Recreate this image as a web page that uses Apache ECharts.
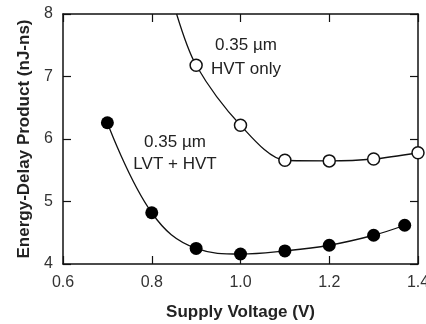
<!DOCTYPE html>
<html><head><meta charset="utf-8">
<script src="https://cdn.jsdelivr.net/npm/echarts@6/dist/echarts.min.js"></script>
<style>html,body{margin:0;padding:0;background:#fff;overflow:hidden;width:426px;height:324px}#c{width:426px;height:324px;overflow:hidden}</style>
</head><body><div id="c"></div>
<script>
// Data
const hvtOnlyX = [0.856, 0.9, 1.0, 1.1, 1.2, 1.3, 1.4];
const hvtOnlyY = [8.0, 7.18, 6.22, 5.66, 5.65, 5.68, 5.78];
const lvtHvtX = [0.7, 0.8, 0.9, 1.0, 1.1, 1.2, 1.3, 1.37];
const lvtHvtY = [6.26, 4.82, 4.25, 4.16, 4.21, 4.30, 4.46, 4.62];
const xTicks = [0.6, 0.8, 1.0, 1.2, 1.4];
const yTicks = [4, 5, 6, 7, 8];
const xTitle = 'Supply Voltage (V)';
const yTitle = 'Energy-Delay Product (nJ-ns)';
const labelHvt = ['0.35 µm', 'HVT only'];
const labelLvt = ['0.35 µm', 'LVT + HVT'];

const FONT = 'Liberation Sans, Arial, Helvetica, sans-serif';
const chart = echarts.init(document.getElementById('c'), null, {renderer: 'canvas', width: 426, height: 324});
const axLine = {show: true, lineStyle: {color: '#111', width: 1.5}};
const tick = {show: true, inside: true, length: 8, lineStyle: {color: '#111', width: 1.2}};
const xmin = xTicks[0], xmax = xTicks[xTicks.length - 1];
const ymin = yTicks[0], ymax = yTicks[yTicks.length - 1];

const hvtData = hvtOnlyX.map((x, i) => i === 0 ? {value: [x, hvtOnlyY[i]], symbol: 'none'} : [x, hvtOnlyY[i]]);
const lvtData = lvtHvtX.map((x, i) => [x, lvtHvtY[i]]);

chart.setOption({
  animation: false,
  backgroundColor: '#fff',
  grid: {left: 63, right: 8, top: 14, bottom: 60, containLabel: false, outerBoundsMode: 'none'},
  xAxis: [{
    type: 'value', position: 'bottom', min: xmin, max: xmax, interval: 0.2,
    name: xTitle, nameLocation: 'middle', nameGap: 40,
    nameTextStyle: {fontFamily: FONT, fontSize: 17, fontWeight: 'bold', color: '#222'},
    axisLine: axLine, axisTick: tick, splitLine: {show: false},
    axisLabel: {fontFamily: FONT, fontSize: 16, color: '#333', margin: 11,
      formatter: v => v.toFixed(1)}
  }, {
    type: 'value', position: 'top', min: xmin, max: xmax, interval: 0.2,
    axisLine: axLine, axisTick: tick, splitLine: {show: false}, axisLabel: {show: false}
  }],
  yAxis: [{
    type: 'value', position: 'left', min: ymin, max: ymax, interval: 1,
    name: yTitle, nameLocation: 'middle', nameGap: 29, nameRotate: 90,
    nameTextStyle: {fontFamily: FONT, fontSize: 17, fontWeight: 'bold', color: '#222'},
    axisLine: axLine, axisTick: tick, splitLine: {show: false},
    axisLabel: {fontFamily: FONT, fontSize: 16, color: '#333', margin: 10}
  }, {
    type: 'value', position: 'right', min: ymin, max: ymax, interval: 1,
    axisLine: axLine, axisTick: tick, splitLine: {show: false}, axisLabel: {show: false}
  }],
  series: [{
    type: 'line', data: hvtData, smooth: 0.3, clip: true,
    symbol: 'circle', symbolSize: 12,
    lineStyle: {color: '#111', width: 1.3},
    itemStyle: {color: '#fff', borderColor: '#111', borderWidth: 1.5}
  }, {
    type: 'line', data: lvtData, smooth: 0.4, clip: true,
    symbol: 'circle', symbolSize: 13,
    lineStyle: {color: '#111', width: 1.3},
    itemStyle: {color: '#000', borderColor: '#000', borderWidth: 0}
  }],
  graphic: [
    {type: 'text', x: 246, y: 57, style: {text: labelHvt.join('\n'), fontFamily: FONT, fontSize: 17, lineHeight: 24, fill: '#222', align: 'center', verticalAlign: 'middle'}},
    {type: 'text', x: 175, y: 153, style: {text: labelLvt.join('\n'), fontFamily: FONT, fontSize: 17, lineHeight: 22, fill: '#222', align: 'center', verticalAlign: 'middle'}}
  ]
});
</script></body></html>
